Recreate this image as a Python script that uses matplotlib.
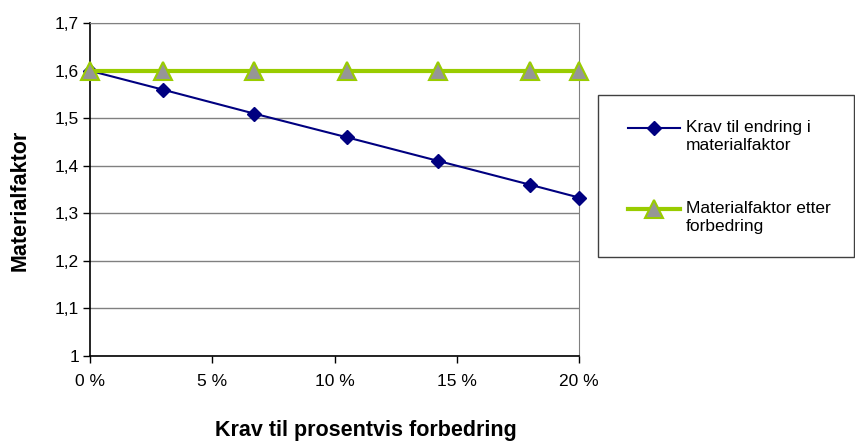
import matplotlib
matplotlib.use('Agg')
import matplotlib.pyplot as plt
from matplotlib.patches import Rectangle
from matplotlib.ticker import FuncFormatter

plt.rcParams['font.family'] = ['Liberation Sans', 'DejaVu Sans']

# prosentvis forbedring (%) og materialfaktor
forbedring = [0, 3.0, 6.7, 10.5, 14.25, 18.0, 20]
krav_materialfaktor = [1.6, 1.56, 1.51, 1.46, 1.41, 1.36, 1.333]
materialfaktor_etter = [1.6, 1.6, 1.6, 1.6, 1.6, 1.6, 1.6]

navn_krav = 'Krav til endring i\nmaterialfaktor'
navn_etter = 'Materialfaktor etter\nforbedring'

fig = plt.figure(figsize=(8.55, 4.42), dpi=100)
ax = fig.add_axes([0.1053, 0.1953, 0.5719, 0.752])

ax.plot(forbedring, krav_materialfaktor, color='#000080', lw=1.5,
        marker='D', ms=7.5, mfc='#000080', mec='#000080', label=navn_krav,
        zorder=3, clip_on=False)
ax.plot(forbedring, materialfaktor_etter, color='#99CC00', lw=3,
        marker='^', ms=13.5, mfc='#969696', mec='#99CC00', mew=1.5,
        label=navn_etter, zorder=4, clip_on=False)

ax.set_xlim(0, 20)
ax.set_ylim(1.0, 1.7)
ax.set_xticks([0, 5, 10, 15, 20])
ax.set_yticks([1.0, 1.1, 1.2, 1.3, 1.4, 1.5, 1.6, 1.7])
ax.xaxis.set_major_formatter(FuncFormatter(lambda v, p: '%d %%' % round(v)))
ax.yaxis.set_major_formatter(
    FuncFormatter(lambda v, p: ('%g' % round(v, 1)).replace('.', ',')))
ax.tick_params(axis='both', direction='out', length=5, width=1, labelsize=12.5,
               color='black')
ax.tick_params(axis='x', pad=8)
ax.tick_params(axis='y', pad=3)

ax.grid(axis='y', color='#808080', lw=1)
ax.set_axisbelow(True)
for side in ['top', 'right']:
    ax.spines[side].set_color('#808080')
for side in ['left', 'bottom']:
    ax.spines[side].set_color('black')
    ax.spines[side].set_linewidth(1.2)

fig.text(0.428, 0.027, 'Krav til prosentvis forbedring', fontsize=15.5,
         fontweight='bold', ha='center', va='center')
fig.text(0.0234, 0.5475, 'Materialfaktor', fontsize=15.5, fontweight='bold',
         rotation=90, ha='center', va='center')

# ramme rundt forklaringen
fig.patches.append(Rectangle((0.6994, 0.4186), 0.2994, 0.367,
                             transform=fig.transFigure, fill=False,
                             edgecolor='#404040', lw=1))
leg = fig.legend(loc='center left', bbox_to_anchor=(0.7345, 0.5995),
                 frameon=False, fontsize=12.5, handlelength=3.0,
                 handleheight=1.2, handletextpad=0.35, labelspacing=2.8,
                 borderpad=0, borderaxespad=0)
# symbolet står ved første tekstlinje
for col in leg._legend_handle_box.get_children():
    for row in col.get_children():
        row.align = 'top'

fig.savefig('out.png', dpi=100)
